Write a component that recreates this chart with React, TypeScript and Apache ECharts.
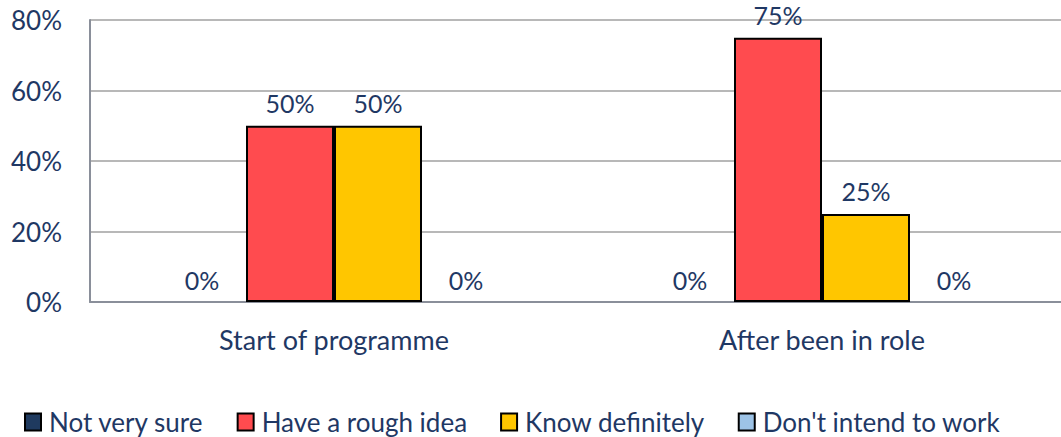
import React, { useEffect, useRef } from "react";
import * as echarts from "echarts";

const categories = ["Start of programme", "After been in role"];
const seriesNames = ["Not very sure", "Have a rough idea", "Know definitely", "Don't intend to work"];
const notVerySure = [0, 0];
const roughIdea = [50, 75];
const knowDefinitely = [50, 25];
const dontIntend = [0, 0];
const yTicks = [0, 20, 40, 60, 80];
const colors = ["#1F3A5F", "#FF4B4F", "#FFC600", "#9DC3E6"];

const textColor = "#1F3864";
const font = "Lato, 'Open Sans', sans-serif";

export default function App() {
  const ref = useRef<HTMLDivElement>(null);
  useEffect(() => {
    if (!ref.current) return;
    const chart = echarts.init(ref.current, null, { renderer: "svg" });
    const data = [notVerySure, roughIdea, knowDefinitely, dontIntend];
    chart.setOption({
      animation: false,
      textStyle: { fontFamily: font },
      grid: { left: 90, top: 20, width: 976, height: 282, containLabel: false },
      legend: {
        top: 409,
        left: 24,
        padding: 0,
        itemWidth: 16,
        itemHeight: 17,
        itemGap: 33,
        icon: "rect",
        itemStyle: { borderColor: "#000", borderWidth: 2 },
        textStyle: { fontSize: 26, color: textColor, fontFamily: font, padding: [0, 0, 0, 3] },
        data: seriesNames,
      },
      xAxis: {
        type: "category",
        data: categories,
        axisLine: { lineStyle: { color: "#8A8F9A", width: 2 } },
        axisTick: { show: false },
        axisLabel: { fontSize: 27, color: textColor, margin: 24, fontFamily: font },
      },
      yAxis: {
        type: "value",
        min: yTicks[0],
        max: yTicks[yTicks.length - 1],
        interval: 20,
        axisLine: { show: true, lineStyle: { color: "#8A8F9A", width: 2 } },
        splitLine: { lineStyle: { color: "#B8B8B8", width: 2 } },
        axisLabel: { fontSize: 26, color: textColor, margin: 28, formatter: "{value}%", fontFamily: font },
      },
      series: seriesNames.map((name, i) => ({
        name,
        type: "bar",
        data: data[i].map((v) => (v === 0 ? { value: v, itemStyle: { borderWidth: 0 } } : v)),
        barWidth: 88,
        barGap: "0%",
        itemStyle: { color: colors[i], borderColor: "#000", borderWidth: 2 },
        label: {
          show: true,
          position: "top",
          distance: 10,
          formatter: "{c}%",
          fontSize: 25,
          color: textColor,
          fontFamily: font,
        },
      })),
    });
    return () => chart.dispose();
  }, []);
  return (
    <div style={{ width: 1061, height: 437, position: "absolute", left: 0, top: 0, overflow: "hidden" }}>
      <div ref={ref} style={{ width: 1075, height: 437 }} />
    </div>
  );
}
